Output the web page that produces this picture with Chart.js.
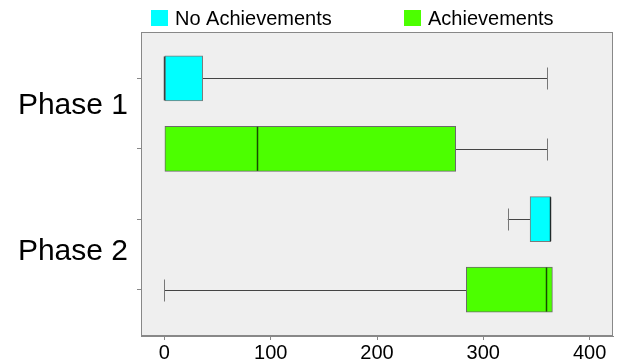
<!DOCTYPE html>
<html>
<head>
<meta charset="utf-8">
<script src="https://cdn.jsdelivr.net/npm/chart.js@4"></script>
<style>
  body { margin: 0; background: #fff; }
  #wrap { width: 620px; height: 362px; }
</style>
</head>
<body>
<div id="wrap"><canvas id="Chart"></canvas></div>
<script>
// box plot values (Phase 1, Phase 2)
var phases = ['Phase 1', 'Phase 2'];
var seriesNames = ['No Achievements', 'Achievements'];

var noAchRows = [1, 3];
var noAchMin = [0, 323];
var noAchQ1 = [0, 344];
var noAchMed = [0, 363];
var noAchQ3 = [36, 363.5];
var noAchMax = [360, 363.5];

var achRows = [2, 4];
var achMin = [0, 0];
var achQ1 = [0, 284];
var achMed = [87, 359];
var achQ3 = [274, 365];
var achMax = [360, 365];

var xTicks = [0, 100, 200, 300, 400];
var phaseLabelPos = [1.5, 3.58];

var FONT = '"Liberation Sans", Arial, sans-serif';

function boxes(rows, q1, q3, min, med, max) {
	var out = [];
	for (var i = 0; i < rows.length; i++) {
		out.push({ y: rows[i], x: [q1[i], q3[i]], min: min[i], med: med[i], max: max[i] });
	}
	return out;
}

// background, frame, whiskers, medians, phase labels, legend
var boxPlugin = {
	id: 'boxPlugin',
	beforeDraw: function(chart) {
		var a = chart.chartArea, c = chart.ctx;
		c.save();
		c.fillStyle = '#efefef';
		c.fillRect(a.left, a.top, a.right - a.left, a.bottom - a.top);
		c.restore();
	},
	beforeDatasetsDraw: function(chart) {
		var c = chart.ctx, xs = chart.scales.x, ys = chart.scales.y;
		c.save();
		chart.data.datasets.forEach(function(ds) {
			ds.data.forEach(function(d) {
				var y = Math.round(ys.getPixelForValue(d.y)) + 0.5;
				var lo = xs.getPixelForValue(d.min), q1 = xs.getPixelForValue(d.x[0]);
				var q3 = xs.getPixelForValue(d.x[1]), hi = xs.getPixelForValue(d.max);
				c.strokeStyle = '#444';
				c.lineWidth = 1;
				c.beginPath();
				if (lo < q1) { c.moveTo(lo, y); c.lineTo(q1, y); }
				if (hi > q3) { c.moveTo(q3, y); c.lineTo(hi, y); }
				c.stroke();
				c.strokeStyle = '#777';
				c.beginPath();
				if (lo < q1) { c.moveTo(Math.round(lo) + 0.5, y - 11); c.lineTo(Math.round(lo) + 0.5, y + 11); }
				if (hi > q3) { c.moveTo(Math.round(hi) + 0.5, y - 11); c.lineTo(Math.round(hi) + 0.5, y + 11); }
				c.stroke();
			});
		});
		c.restore();
	},
	afterDatasetsDraw: function(chart) {
		var c = chart.ctx, xs = chart.scales.x, ys = chart.scales.y;
		c.save();
		chart.data.datasets.forEach(function(ds) {
			ds.data.forEach(function(d) {
				var y = ys.getPixelForValue(d.y);
				var m = Math.round(xs.getPixelForValue(d.med)) + 0.5;
				c.strokeStyle = 'rgba(0,0,0,0.7)';
				c.lineWidth = 1.5;
				c.beginPath();
				c.moveTo(m, y - 22);
				c.lineTo(m, y + 22);
				c.stroke();
			});
		});
		c.restore();
	},
	afterDraw: function(chart) {
		var a = chart.chartArea, c = chart.ctx, ys = chart.scales.y;
		c.save();
		c.strokeStyle = '#888';
		c.lineWidth = 1;
		c.strokeRect(Math.round(a.left) + 0.5, Math.round(a.top) + 0.5,
			Math.round(a.right - a.left) - 1, Math.round(a.bottom - a.top) - 1);

		c.fillStyle = '#000';
		c.font = '30px ' + FONT;
		c.textAlign = 'right';
		c.textBaseline = 'alphabetic';
		phases.forEach(function(p, i) {
			c.fillText(p, 128, ys.getPixelForValue(phaseLabelPos[i]));
		});

		var lx = [151, 404];
		c.font = '20px ' + FONT;
		c.textAlign = 'left';
		chart.data.datasets.forEach(function(ds, i) {
			c.fillStyle = ds.backgroundColor;
			c.fillRect(lx[i], 10, 17, 16);
			c.fillStyle = '#000';
			c.fillText(ds.label, lx[i] + 24, 25);
		});
		c.restore();
	}
};

const ctx = document.getElementById('Chart').getContext('2d');
const Charts = new Chart(ctx, {
	type: 'bar',
	data: {
		datasets: [{
			label: seriesNames[0],
			data: boxes(noAchRows, noAchQ1, noAchQ3, noAchMin, noAchMed, noAchMax),
			backgroundColor: '#00ffff',
			borderColor: '#7a7a7a',
			borderWidth: 1,
			borderSkipped: false
		}, {
			label: seriesNames[1],
			data: boxes(achRows, achQ1, achQ3, achMin, achMed, achMax),
			backgroundColor: '#4cff00',
			borderColor: '#6a6a6a',
			borderWidth: 1,
			borderSkipped: false
		}]
	},
	options: {
		indexAxis: 'y',
		responsive: true,
		maintainAspectRatio: false,
		animation: false,
		grouped: false,
		barThickness: 45,
		layout: { padding: { top: 32, right: 7, left: 0, bottom: 0 } },
		plugins: { legend: { display: false }, tooltip: { enabled: false } },
		scales: {
			x: {
				type: 'linear',
				min: -22,
				max: 422,
				afterFit: function(s) { s.height = 26; },
				afterBuildTicks: function(s) { s.ticks = xTicks.map(function(v) { return { value: v }; }); },
				ticks: { color: '#000', font: { family: FONT, size: 20 }, padding: 1, maxRotation: 0 },
				grid: { drawOnChartArea: false, drawTicks: true, tickLength: 4, color: '#888' },
				border: { color: '#888' }
			},
			y: {
				type: 'linear',
				reverse: true,
				offset: false,
				min: 0.34,
				max: 4.66,
				afterFit: function(s) { s.width = 141; },
				afterBuildTicks: function(s) { s.ticks = [1, 2, 3, 4].map(function(v) { return { value: v }; }); },
				ticks: { display: false },
				grid: { offset: false, drawOnChartArea: false, drawTicks: true, tickLength: 4, color: '#888' },
				border: { color: '#888' }
			}
		}
	},
	plugins: [boxPlugin]
});
</script>
</body>
</html>
